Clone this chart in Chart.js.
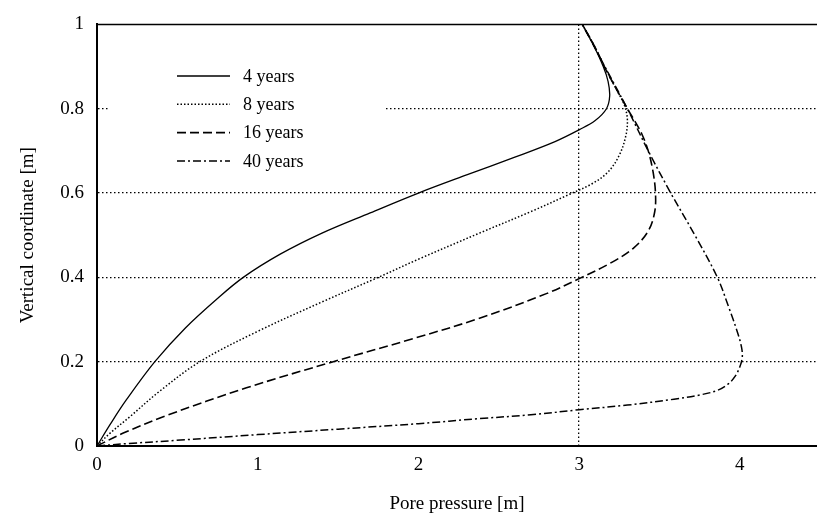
<!DOCTYPE html>
<html>
<head>
<meta charset="utf-8">
<script src="https://cdn.jsdelivr.net/npm/chart.js@4"></script>
<style>
  html, body { margin: 0; padding: 0; background: #fff; }
  #wrap { width: 817px; height: 519px; }
</style>
</head>
<body>
<div id="wrap"><canvas id="chart"></canvas></div>
<script>
// pore pressure profiles
const years = ['4 years', '8 years', '16 years', '40 years'];

const press4 = [0, 0.08, 0.18, 0.36, 0.55, 0.75, 0.91, 1.14, 1.4, 1.7, 2.0, 2.3, 2.6, 2.85, 3.0, 3.1, 3.17, 3.19, 3.18, 3.15, 3.09, 3.02];
const coord4 = [0, 0.05, 0.108, 0.2, 0.28, 0.35, 0.4, 0.455, 0.505, 0.553, 0.6, 0.643, 0.685, 0.722, 0.75, 0.772, 0.8, 0.83, 0.865, 0.9, 0.95, 1.0];

const press8 = [0, 0.08, 0.2, 0.39, 0.64, 1.0, 1.39, 1.75, 2.0, 2.38, 2.7, 2.94, 3.08, 3.18, 3.25, 3.29, 3.30, 3.28, 3.24, 3.17, 3.10, 3.02];
const coord8 = [0, 0.03, 0.068, 0.13, 0.2, 0.272, 0.34, 0.4, 0.443, 0.505, 0.556, 0.597, 0.622, 0.65, 0.69, 0.735, 0.775, 0.81, 0.84, 0.89, 0.945, 1.0];

const press16 = [0, 0.16, 0.43, 0.93, 1.47, 1.97, 2.38, 2.8, 3.0, 3.2, 3.34, 3.43, 3.47, 3.475, 3.46, 3.43, 3.39, 3.34, 3.30, 3.17, 3.10, 3.02];
const coord16 = [0, 0.03, 0.072, 0.138, 0.2, 0.255, 0.303, 0.362, 0.397, 0.435, 0.47, 0.51, 0.555, 0.6, 0.65, 0.7, 0.74, 0.775, 0.8, 0.89, 0.945, 1.0];

const press40 = [0, 0.2, 0.52, 1.0, 1.5, 2.0, 2.38, 2.7, 3.0, 3.3, 3.59, 3.75, 3.86, 3.93, 3.97, 4.0, 4.015, 4.01, 3.985, 3.93, 3.86, 3.72, 3.57, 3.43, 3.30, 3.16, 3.02];
const coord40 = [0, 0.006, 0.014, 0.027, 0.04, 0.053, 0.065, 0.074, 0.086, 0.097, 0.111, 0.121, 0.132, 0.148, 0.165, 0.188, 0.21, 0.235, 0.27, 0.33, 0.4, 0.5, 0.6, 0.7, 0.8, 0.9, 1.0];

const xTicks = [0, 1, 2, 3, 4];
const yTicks = [0, 0.2, 0.4, 0.6, 0.8, 1];

const serif = '"Liberation Serif", "Times New Roman", serif';
const dashes = [[], [1.5, 2], [9, 4], [8, 3, 2, 3]];
const widths = [1.3, 1.5, 1.6, 1.5];

function pts(xs, ys) {
	return xs.map((x, i) => ({ x: x, y: ys[i] }));
}

const series = [pts(press4, coord4), pts(press8, coord8), pts(press16, coord16), pts(press40, coord40)];

// legend drawn inside the plot on a white box, plus the top frame line
const framePlugin = {
	id: 'frame',
	afterDraw(chart) {
		const ctx = chart.ctx;
		const a = chart.chartArea;
		ctx.save();
		ctx.strokeStyle = '#000';
		ctx.lineWidth = 1.5;
		ctx.beginPath();
		ctx.moveTo(a.left, a.top);
		ctx.lineTo(a.right, a.top);
		ctx.stroke();

		ctx.fillStyle = '#fff';
		ctx.fillRect(110, 58, 275, 118);
		ctx.font = '18px ' + serif;
		ctx.textBaseline = 'middle';
		years.forEach((label, i) => {
			const y = 76 + i * 28.3;
			ctx.strokeStyle = '#000';
			ctx.lineWidth = widths[i];
			ctx.setLineDash(dashes[i]);
			ctx.beginPath();
			ctx.moveTo(177, y);
			ctx.lineTo(230, y);
			ctx.stroke();
			ctx.setLineDash([]);
			ctx.fillStyle = '#000';
			ctx.fillText(label, 243, y + 1);
		});
		ctx.restore();
	}
};

new Chart(document.getElementById('chart'), {
	type: 'scatter',
	data: {
		datasets: series.map((d, i) => ({
			label: years[i],
			data: d,
			showLine: true,
			borderColor: '#000',
			borderWidth: widths[i],
			borderDash: dashes[i],
			pointRadius: 0,
			tension: 0.35,
			fill: false
		}))
	},
	options: {
		responsive: true,
		maintainAspectRatio: false,
		animation: false,
		layout: { padding: { left: 13, top: 17, right: 0, bottom: 0 } },
		plugins: { legend: { display: false }, tooltip: { enabled: false } },
		scales: {
			x: {
				type: 'linear',
				min: 0,
				max: 4.48,
				afterFit: s => { s.height = 73; },
				afterBuildTicks: s => { s.ticks = xTicks.map(v => ({ value: v })); },
				ticks: { color: '#000', font: { family: serif, size: 19 }, padding: 8, callback: v => String(v) },
				grid: {
					drawTicks: false,
					color: c => c.tick && c.tick.value === 3 ? '#000' : 'rgba(0,0,0,0)',
					lineWidth: 1.3
				},
				border: { display: true, color: '#000', width: 2, dash: [1.5, 2.5] },
				title: { display: true, text: 'Pore pressure [m]', color: '#000', font: { family: serif, size: 19 }, padding: { top: 0, bottom: 4 } }
			},
			y: {
				type: 'linear',
				min: 0,
				max: 1,
				afterFit: s => { s.width = 84; },
				afterBuildTicks: s => { s.ticks = yTicks.map(v => ({ value: v })); },
				ticks: { color: '#000', font: { family: serif, size: 19 }, padding: 13, callback: v => String(v) },
				grid: {
					drawTicks: false,
					color: c => c.tick && c.tick.value > 0 && c.tick.value < 1 ? '#000' : 'rgba(0,0,0,0)',
					lineWidth: 1.3
				},
				border: { display: true, color: '#000', width: 2, dash: [1.5, 2.5] },
				title: { display: true, text: 'Vertical coordinate [m]', color: '#000', font: { family: serif, size: 19 }, padding: { top: 4, bottom: 0 } }
			}
		}
	},
	plugins: [framePlugin]
});
</script>
</body>
</html>
